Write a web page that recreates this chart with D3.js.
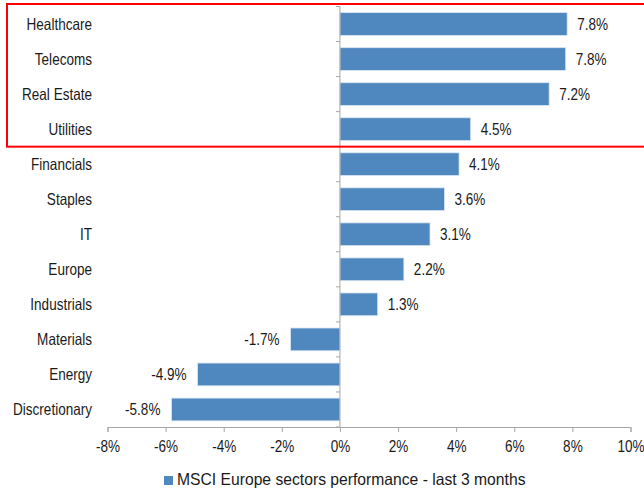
<!DOCTYPE html>
<html>
<head>
<meta charset="utf-8">
<script src="https://cdn.jsdelivr.net/npm/d3@7"></script>
<style>
  body { margin: 0; background: #fff; }
  svg text { font-family: 'Liberation Sans', Arial, sans-serif; font-size: 16.5px; fill: #1a1a1a; }
  .axis path, .axis line { stroke: #a6a6a6; }
</style>
</head>
<body>
<div id="chart"></div>
<script>
'use strict';

// sectors, top to bottom
const sectors = ['Healthcare', 'Telecoms', 'Real Estate', 'Utilities', 'Financials', 'Staples',
  'IT', 'Europe', 'Industrials', 'Materials', 'Energy', 'Discretionary'];
// performance over last 3 months, %
const perf = [7.82, 7.77, 7.2, 4.5, 4.1, 3.6, 3.1, 2.2, 1.3, -1.7, -4.9, -5.8];
const xTicks = [-8, -6, -4, -2, 0, 2, 4, 6, 8, 10];
const legendLabel = 'MSCI Europe sectors performance - last 3 months';
const highlighted = ['Healthcare', 'Telecoms', 'Real Estate', 'Utilities'];

const width = 644;
const height = 492;
const barColor = '#4f88bf';
const narrow = 0.82; // squeeze text to look like a narrow face

let svg = d3.select('#chart')
    .append('svg')
    .attr('width', width)
    .attr('height', height);

let data = sectors.map((s, i) => ({ sector: s, value: perf[i] }));

// scales
let x = d3.scaleLinear()
    .domain([xTicks[0], xTicks[xTicks.length - 1]])
    .range([107.5, 630.5]);

let y = d3.scaleBand()
    .domain(sectors)
    .range([6.5, 427])
    .paddingInner(0.35)
    .paddingOuter(0.175);

// bars
svg.append('g')
    .selectAll('rect')
    .data(data)
    .join('rect')
    .attr('x', d => x(Math.min(0, d.value)))
    .attr('y', d => y(d.sector))
    .attr('width', d => Math.abs(x(d.value) - x(0)))
    .attr('height', y.bandwidth())
    .attr('fill', barColor)
    .attr('stroke', '#dbe6f2')
    .attr('stroke-width', 0.8);

// value labels
svg.append('g')
    .selectAll('text')
    .data(data)
    .join('text')
    .attr('x', d => d.value >= 0 ? x(d.value) + 10 : x(d.value) - 11)
    .attr('y', d => y(d.sector) + y.bandwidth() / 2)
    .attr('dy', '0.35em')
    .attr('text-anchor', d => d.value >= 0 ? 'start' : 'end')
    .text(d => d.value.toFixed(1) + '%');

// x axis
let xAxis = d3.axisBottom(x)
    .tickValues(xTicks)
    .tickFormat(d => d + '%')
    .tickSize(5)
    .tickSizeOuter(5)
    .tickPadding(8);

let gX = svg.append('g')
    .attr('class', 'axis')
    .attr('transform', 'translate(0,427)')
    .call(xAxis);
gX.attr('font-family', null).attr('font-size', null);

// y axis at zero, with ticks between categories
let step = y.step();
let bounds = d3.range(sectors.length + 1).map(i => y.range()[0] + i * step);
let gY = svg.append('g')
    .attr('class', 'axis');
gY.append('line')
    .attr('x1', x(0)).attr('x2', x(0))
    .attr('y1', bounds[0]).attr('y2', bounds[bounds.length - 1]);
gY.selectAll('line.tick')
    .data(bounds)
    .join('line')
    .attr('class', 'tick')
    .attr('x1', x(0) - 4).attr('x2', x(0))
    .attr('y1', d => d).attr('y2', d => d);

// category labels
svg.append('g')
    .selectAll('text')
    .data(sectors)
    .join('text')
    .attr('x', 92)
    .attr('y', d => y(d) + y.bandwidth() / 2)
    .attr('dy', '0.35em')
    .attr('text-anchor', 'end')
    .text(d => d);

// red highlight box around the top sectors
let hiTop = y(highlighted[0]) - (y.step() - y.bandwidth()) / 2 - 2.5;
let hiBottom = y(highlighted[highlighted.length - 1]) + y.bandwidth() + (y.step() - y.bandwidth()) / 2;
svg.append('rect')
    .attr('x', 7)
    .attr('y', hiTop)
    .attr('width', 645)
    .attr('height', hiBottom - hiTop)
    .attr('fill', 'none')
    .attr('stroke', '#ff0000')
    .attr('stroke-width', 2);

// squeeze every text horizontally
svg.selectAll('text').each(function() {
    let len = this.getComputedTextLength();
    d3.select(this)
        .attr('textLength', len * narrow)
        .attr('lengthAdjust', 'spacingAndGlyphs');
});

// legend (a little wider than the other texts)
let legend = svg.append('g')
    .attr('transform', 'translate(164,476)');
legend.append('rect')
    .attr('width', 9)
    .attr('height', 9)
    .attr('fill', barColor);
let legendText = legend.append('text')
    .attr('x', 13)
    .attr('y', 9)
    .text(legendLabel);
legendText
    .attr('textLength', legendText.node().getComputedTextLength() * 0.95)
    .attr('lengthAdjust', 'spacingAndGlyphs');
</script>
</body>
</html>
